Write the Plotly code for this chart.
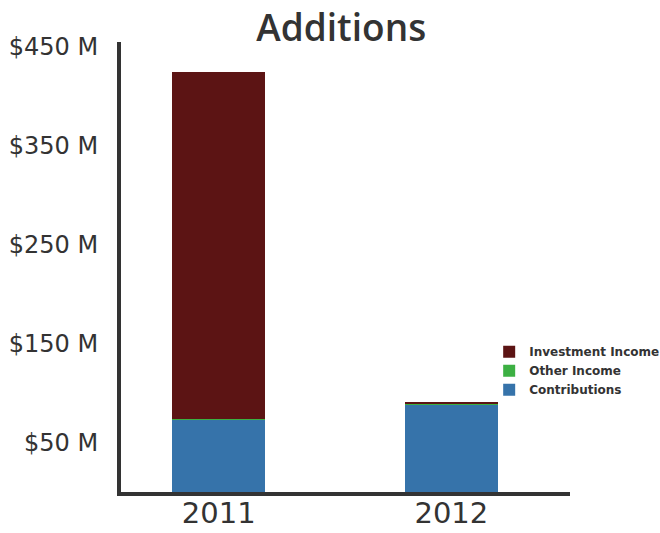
import plotly.graph_objects as go

years = ["2011", "2012"]
contributions = [73, 88]
other_income = [0.8, 0.5]
investment_income = [351, 3]
tick_vals = [50, 150, 250, 350, 450]
tick_text = ["$50 M", "$150 M", "$250 M", "$350 M", "$450 M"]

fig = go.Figure()
fig.add_trace(go.Bar(x=years, y=contributions, name="Contributions", marker_color="#3673aa",
                     marker_line_width=0, width=0.4))
fig.add_trace(go.Bar(x=years, y=other_income, name="Other Income", marker_color="#3cb043",
                     marker_line_width=0, width=0.4))
fig.add_trace(go.Bar(x=years, y=investment_income, name="Investment Income", marker_color="#5c1414",
                     marker_line_width=0, width=0.4))

fig.update_layout(
    barmode="stack",
    width=660, height=533,
    margin=dict(l=121, r=90, t=42, b=41, autoexpand=False),
    paper_bgcolor="white", plot_bgcolor="white",
    title=dict(text="Additions", x=0.517, xanchor="center", y=0.947, yanchor="middle",
               font=dict(family="Open Sans", size=37, color="#333333", weight=600)),
    legend=dict(x=0.82, y=0.344, xanchor="left", yanchor="top", traceorder="reversed",
                font=dict(family="DejaVu Sans", size=12, color="#333333", weight="bold"),
                itemwidth=30, tracegroupgap=0, bgcolor="rgba(0,0,0,0)"),
    bargap=0.6,
)
fig.update_xaxes(range=[-0.42, 1.51], showline=True, linecolor="#333333", linewidth=4,
                 tickfont=dict(family="DejaVu Sans", size=29, color="#333333"),
                 ticks="", showgrid=False, automargin=False, ticklabelstandoff=-8)
fig.update_yaxes(range=[0, 455], showline=True, linecolor="#333333", linewidth=4,
                 tickvals=tick_vals, ticktext=tick_text, ticks="", showgrid=False,
                 zeroline=False, ticklabelstandoff=14, automargin=False,
                 tickfont=dict(family="DejaVu Sans", size=24, color="#333333"))
fig.write_html("out.html")
